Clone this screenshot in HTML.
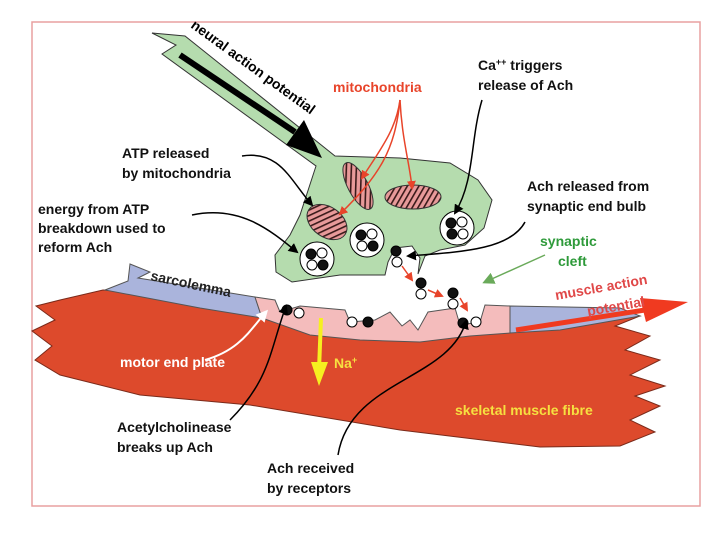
<!DOCTYPE html>
<html><head><meta charset="utf-8"><style>
html,body{margin:0;padding:0;background:#fff;width:720px;height:540px;overflow:hidden}
text{font-family:"Liberation Sans",Verdana,sans-serif;font-weight:bold;font-size:14px}
</style></head><body>
<svg width="720" height="540" viewBox="0 0 720 540" xmlns="http://www.w3.org/2000/svg">
<defs>
<pattern id="st" width="5" height="5" patternUnits="userSpaceOnUse" patternTransform="rotate(30)">
<rect width="5" height="5" fill="#e89a9a"/><rect width="1.6" height="5" fill="#3a1a1a"/></pattern>
<marker id="ab" markerWidth="10" markerHeight="10" refX="8" refY="5" orient="auto" markerUnits="userSpaceOnUse"><path d="M0,0 L10,5 L0,10 Z" fill="#000"/></marker>
<marker id="ar" markerWidth="9" markerHeight="9" refX="7" refY="4.5" orient="auto" markerUnits="userSpaceOnUse"><path d="M0,0 L9,4.5 L0,9 Z" fill="#e8442a"/></marker>
<marker id="ag" markerWidth="12" markerHeight="12" refX="9" refY="6" orient="auto" markerUnits="userSpaceOnUse"><path d="M0,0 L12,6 L0,12 Z" fill="#6aaa5a"/></marker>
<marker id="aw" markerWidth="12" markerHeight="12" refX="9" refY="6" orient="auto" markerUnits="userSpaceOnUse"><path d="M0,0 L12,6 L0,12 Z" fill="#fff"/></marker>
</defs>
<rect x="32" y="22" width="668" height="484" fill="none" stroke="#e8a0a0" stroke-width="1.5"/>

<polygon points="60,300 103,290 255,300 310,325 420,335 500,325 620,310 640,316 615,326 650,336 625,350 660,360 630,375 665,386 635,396 660,406 630,420 655,432 620,446 540,447 400,430 250,405 140,395 60,375 35,360 52,346 32,331 55,320 36,306" fill="#dd4a2c" stroke="#7a2a1a" stroke-width="1"/>
<polygon points="130,264 150,272 138,278 255,297 262,318 200,308 105,290 128,281" fill="#aab4dc" stroke="#555" stroke-width="1"/>
<polygon points="510,306 620,308 640,316 560,330 510,333" fill="#aab4dc" stroke="#555" stroke-width="1"/>
<path d="M255,297 L275,300 L280,312 L300,306 L345,310 L350,322 L375,320 L390,312 L402,326 L410,320 L418,330 L428,312 L455,308 L460,325 L480,322 L485,305 L510,306 L510,333 L470,336 L420,342 L360,340 L310,335 L262,318 Z" fill="#f4bcbc" stroke="#555" stroke-width="1"/>
<path d="M152,33 L176,45 L162,54 L316,166 L300,215 L290,235 L275,255 L276,272 L292,282 L340,275 L385,275 L388,262 L395,248 L412,246 L420,258 L418,274 L425,256 L440,250 L465,245 L484,228 L492,200 L478,180 L450,163 L400,158 L335,156 L185,36 Z" fill="#b5dcae" stroke="#333" stroke-width="1"/>
<path d="M180,55 L295,132" stroke="#000" stroke-width="6"/>
<polygon points="286,145 304,120 322,158" fill="#000"/>
<text transform="translate(190,27) rotate(36)">neural action potential</text>

<ellipse cx="358" cy="186" rx="10" ry="26" transform="rotate(-28 358 186)" fill="url(#st)" stroke="#333"/>
<ellipse cx="413" cy="197" rx="28" ry="12" fill="url(#st)" stroke="#333"/>
<ellipse cx="327" cy="222" rx="22" ry="15" transform="rotate(35 327 222)" fill="url(#st)" stroke="#333"/>

<g stroke="#000" stroke-width="1">
<circle cx="317" cy="259" r="17" fill="#fff"/><circle cx="311" cy="254" r="5" fill="#111"/><circle cx="322" cy="253" r="5" fill="#fff"/><circle cx="312" cy="265" r="5" fill="#fff"/><circle cx="323" cy="265" r="5" fill="#111"/>
<circle cx="367" cy="240" r="17" fill="#fff"/><circle cx="361" cy="235" r="5" fill="#111"/><circle cx="372" cy="234" r="5" fill="#fff"/><circle cx="362" cy="246" r="5" fill="#fff"/><circle cx="373" cy="246" r="5" fill="#111"/>
<circle cx="457" cy="228" r="17" fill="#fff"/><circle cx="451" cy="223" r="5" fill="#111"/><circle cx="462" cy="222" r="5" fill="#fff"/><circle cx="452" cy="234" r="5" fill="#111"/><circle cx="463" cy="234" r="5" fill="#fff"/>
<circle cx="396" cy="251" r="5" fill="#111"/><circle cx="397" cy="262" r="5" fill="#fff"/>
<circle cx="421" cy="283" r="5" fill="#111"/><circle cx="421" cy="294" r="5" fill="#fff"/>
<circle cx="453" cy="293" r="5" fill="#111"/><circle cx="453" cy="304" r="5" fill="#fff"/>
<circle cx="287" cy="310" r="5" fill="#111"/><circle cx="299" cy="313" r="5" fill="#fff"/>
<circle cx="352" cy="322" r="5" fill="#fff"/><circle cx="368" cy="322" r="5" fill="#111"/>
<circle cx="463" cy="323" r="5" fill="#111"/><circle cx="476" cy="322" r="5" fill="#fff"/>
</g>
<g stroke="#e8442a" stroke-width="1.5" fill="none">
<path d="M402,266 L412,280" marker-end="url(#ar)"/>
<path d="M428,290 L442,296" marker-end="url(#ar)"/>
<path d="M460,298 L467,310" marker-end="url(#ar)"/>
<path d="M400,100 C396,130 380,150 362,178" marker-end="url(#ar)"/>
<path d="M400,100 C395,150 380,175 340,214" marker-end="url(#ar)"/>
<path d="M400,100 C402,140 410,165 412,188" marker-end="url(#ar)"/>
</g>

<g stroke="#000" stroke-width="1.5" fill="none">
<path d="M482,100 C470,140 475,180 455,213" marker-end="url(#ab)"/>
<path d="M242,156 C280,150 290,180 312,205" marker-end="url(#ab)"/>
<path d="M192,215 C240,205 270,230 297,252" marker-end="url(#ab)"/>
<path d="M525,222 C510,250 460,252 408,256" marker-end="url(#ab)"/>
<path d="M230,420 C270,380 270,350 286,306" marker-end="url(#ab)"/>
<path d="M338,455 C350,380 450,380 466,321" marker-end="url(#ab)"/>
</g>
<path d="M205,360 C240,350 250,330 266,312" stroke="#fff" stroke-width="2" fill="none" marker-end="url(#aw)"/>
<path d="M545,255 L485,282" stroke="#6aaa5a" stroke-width="1.5" fill="none" marker-end="url(#ag)"/>
<path d="M321,318 L319,370" stroke="#f6f020" stroke-width="4"/>
<polygon points="311,362 328,362 319,386" fill="#f6f020"/>
<path d="M516,330 L645,310" stroke="#f03a20" stroke-width="5"/>
<polygon points="640,298 688,302 646,322" fill="#f03a20"/>

<text x="333" y="92" fill="#e8442a">mitochondria</text>
<text x="478" y="70" fill="#111">Ca<tspan font-size="9" dy="-5">++</tspan><tspan dy="5"> triggers</tspan></text>
<text x="478" y="90" fill="#111">release of Ach</text>
<text x="122" y="158" fill="#111">ATP released</text>
<text x="122" y="178" fill="#111">by mitochondria</text>
<text x="38" y="214" fill="#111">energy from ATP</text>
<text x="38" y="233" fill="#111">breakdown used to</text>
<text x="38" y="252" fill="#111">reform Ach</text>
<text x="527" y="191" fill="#111">Ach released from</text>
<text x="527" y="211" fill="#111">synaptic end bulb</text>
<text x="540" y="246" fill="#2e9a3a">synaptic</text>
<text x="558" y="266" fill="#2e9a3a">cleft</text>
<text transform="translate(556,300) rotate(-10)" fill="#e04848">muscle action</text>
<text transform="translate(588,316) rotate(-10)" fill="#e04848">potential</text>
<text transform="translate(150,280) rotate(12)" fill="#222" font-size="15">sarcolemma</text>
<text x="120" y="367" fill="#fff">motor end plate</text>
<text x="334" y="368" fill="#f6e040">Na<tspan font-size="9" dy="-5">+</tspan></text>
<text x="455" y="415" fill="#f6e040">skeletal muscle fibre</text>
<text x="117" y="432" fill="#111">Acetylcholinease</text>
<text x="117" y="452" fill="#111">breaks up Ach</text>
<text x="267" y="473" fill="#111">Ach received</text>
<text x="267" y="493" fill="#111">by receptors</text>
</svg>
</body></html>
